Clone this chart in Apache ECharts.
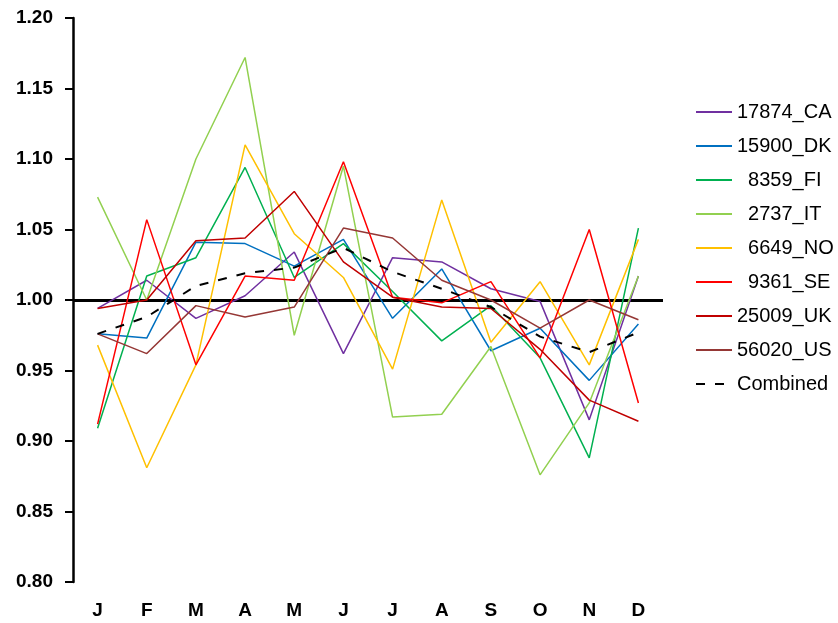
<!DOCTYPE html>
<html>
<head>
<meta charset="utf-8">
<script src="https://cdn.jsdelivr.net/npm/echarts@6/dist/echarts.min.js"></script>
<style>
html,body{margin:0;padding:0;background:#fff;}
#chart{width:838px;height:623px;}
</style>
</head>
<body>
<div id="chart"></div>
<script>
const months = ['J','F','M','A','M','J','J','A','S','O','N','D'];
const yTicks = [0.80, 1.20, 0.05]; // min, max, step

const seriesNames = ['17874_CA','15900_DK','8359_FI','2737_IT','6649_NO','9361_SE','25009_UK','56020_US','Combined'];
const legendLabels = ['17874_CA','15900_DK','  8359_FI','  2737_IT','  6649_NO','  9361_SE','25009_UK','56020_US','Combined'];

const CA = [0.994, 1.014, 0.987, 1.003, 1.034, 0.962, 1.030, 1.027, 1.008, 0.999, 0.915, 1.017];
const DK = [0.976, 0.973, 1.041, 1.040, 1.024, 1.043, 0.987, 1.022, 0.964, 0.980, 0.943, 0.983];
const FI = [0.909, 1.017, 1.030, 1.094, 1.016, 1.040, 1.006, 0.971, 0.996, 0.959, 0.888, 1.051];
const IT = [1.073, 1.000, 1.100, 1.172, 0.975, 1.095, 0.917, 0.919, 0.967, 0.876, 0.927, 1.017];
const NO = [0.968, 0.881, 0.954, 1.110, 1.047, 1.016, 0.951, 1.071, 0.970, 1.013, 0.954, 1.043];
const SE = [0.912, 1.057, 0.954, 1.017, 1.014, 1.098, 1.002, 0.998, 1.013, 0.959, 1.050, 0.927];
const UK = [0.994, 1.000, 1.042, 1.044, 1.077, 1.027, 1.002, 0.995, 0.994, 0.965, 0.929, 0.914];
const US = [0.976, 0.962, 0.996, 0.988, 0.995, 1.051, 1.044, 1.014, 1.000, 0.980, 1.000, 0.986];
const Combined = [0.976, 0.988, 1.010, 1.019, 1.023, 1.037, 1.020, 1.008, 0.995, 0.974, 0.963, 0.977];

const seriesData = [CA, DK, FI, IT, NO, SE, UK, US, Combined];
const colors = ['#7030A0','#0070C0','#00B050','#92D050','#FFC000','#FF0000','#C00000','#953735','#000000'];
const baseline = 1.0;

const chart = echarts.init(document.getElementById('chart'), null, {renderer:'canvas'});

const series = seriesNames.map((n, i) => {
  const isComb = n === 'Combined';
  const s = {
    name: n,
    type: 'line',
    data: seriesData[i],
    symbol: 'none',
    smooth: false,
    z: isComb ? 5 : 3,
    lineStyle: {
      color: colors[i],
      width: isComb ? 2 : 1.5,
      type: isComb ? [9, 10] : 'solid'
    },
    itemStyle: {color: colors[i]},
    emphasis: {disabled: true}
  };
  if (i === 0) {
    s.markLine = {
      silent: true,
      symbol: 'none',
      label: {show: false},
      lineStyle: {color: '#000', width: 3, type: 'solid'},
      data: [{yAxis: baseline}],
      z: 1
    };
  }
  return s;
});

chart.setOption({
  animation: false,
  backgroundColor: '#ffffff',
  grid: {left: 73, right: 175, top: 18, bottom: 41, containLabel: false, outerBoundsMode: 'none'},
  legend: {
    orient: 'vertical',
    left: 695,
    top: 102,
    padding: 0,
    itemWidth: 36,
    itemHeight: 14,
    itemGap: 14,
    itemStyle: {opacity: 0},
    data: seriesNames,
    formatter: function (name) { return legendLabels[seriesNames.indexOf(name)]; },
    textStyle: {fontFamily: 'Liberation Sans, Arial, sans-serif', fontSize: 20, color: '#000'},
    selectedMode: false
  },
  xAxis: {
    type: 'category',
    data: months,
    boundaryGap: true,
    axisLine: {show: false},
    axisTick: {show: false},
    splitLine: {show: false},
    axisLabel: {
      interval: 0,
      margin: 19,
      color: '#000',
      fontWeight: 'bold',
      fontSize: 19,
      fontFamily: 'Liberation Sans, Arial, sans-serif'
    }
  },
  yAxis: {
    type: 'value',
    min: yTicks[0],
    max: yTicks[1],
    interval: yTicks[2],
    axisLine: {show: true, lineStyle: {color: '#000', width: 2.5}},
    axisTick: {show: true, inside: false, length: 8, lineStyle: {color: '#000', width: 2}},
    splitLine: {show: false},
    axisLabel: {
      margin: 20,
      color: '#000',
      fontWeight: 'bold',
      fontSize: 19,
      fontFamily: 'Liberation Sans, Arial, sans-serif',
      formatter: v => v.toFixed(2)
    }
  },
  series: series
});
</script>
</body>
</html>
